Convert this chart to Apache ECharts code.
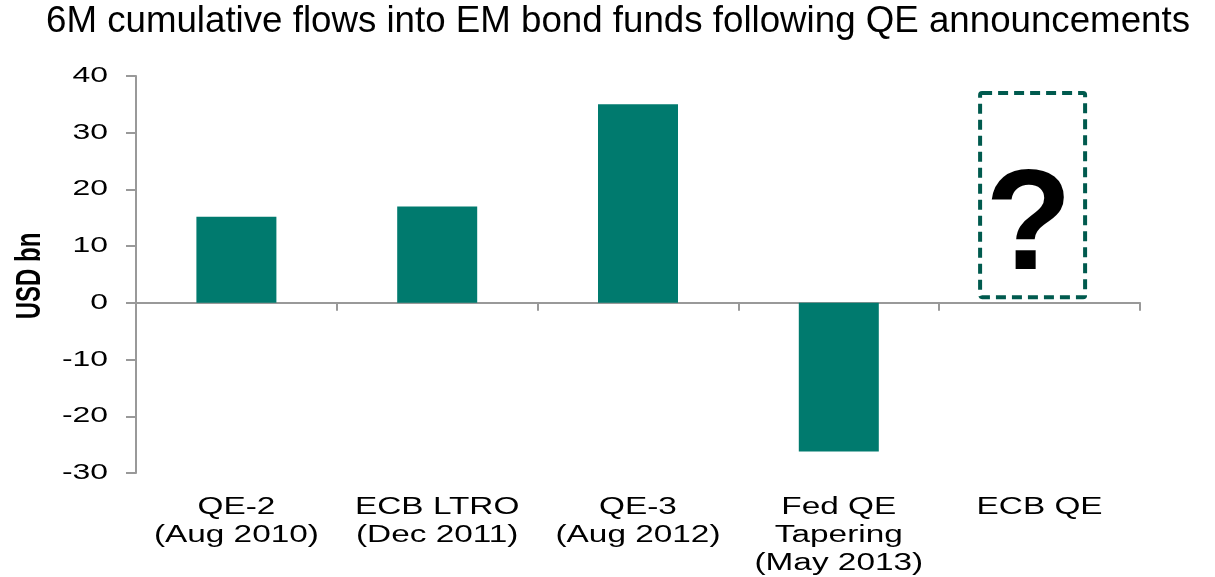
<!DOCTYPE html>
<html>
<head>
<meta charset="utf-8">
<script src="https://cdn.jsdelivr.net/npm/echarts@6/dist/echarts.min.js"></script>
<style>
  html, body { margin: 0; padding: 0; background: #fff; }
  #chart { width: 1215px; height: 577px; }
</style>
</head>
<body>
<div id="chart"></div>
<script>
// Episodes and 6-month cumulative flows (USD bn)
const categories = ['QE-2\n(Aug 2010)', 'ECB LTRO\n(Dec 2011)', 'QE-3\n(Aug 2012)', 'Fed QE\nTapering\n(May 2013)', 'ECB QE'];
const flows = [15.2, 17.0, 35.0, -26.2, null];
// Open question: dashed outline for the pending episode [category index, low, high]
const pendingRange = [[4, 1, 37]];
// Value axis ticks
const yTickValues = [-30, -20, -10, 0, 10, 20, 30, 40];
const yTickLabels = yTickValues.map(String);
const yName = 'USD bn';
const titleText = '6M cumulative flows into EM bond funds following QE announcements';

const teal = '#007A6E';
const font = 'Arial, "Liberation Sans", sans-serif';
const stretch = 1.45; // chart texts are set wide

const chart = echarts.init(document.getElementById('chart'), null, { renderer: 'canvas' });

chart.setOption({
  animation: false,
  graphic: [
    {
      type: 'text',
      x: 618, y: 22,
      style: {
        text: titleText,
        x: 0, y: 0,
        textAlign: 'center', textVerticalAlign: 'middle',
        font: '36.7px ' + font, fill: '#000'
      }
    },
    {
      type: 'text',
      x: 30, y: 276,
      rotation: Math.PI / 2,
      scaleY: stretch,
      style: {
        text: yName,
        x: 0, y: 0,
        textAlign: 'center', textVerticalAlign: 'middle',
        font: 'bold 24px ' + font, fill: '#000'
      }
    }
  ],
  grid: { left: 136, right: 75, top: 76, bottom: 104, containLabel: false },
  xAxis: {
    type: 'category',
    data: categories,
    axisLine: { onZero: true, lineStyle: { color: '#999', width: 2 } },
    axisTick: { show: true, length: 8, lineStyle: { color: '#999', width: 2 } },
    axisLabel: { show: false }
  },
  yAxis: {
    type: 'value',
    min: yTickValues[0],
    max: yTickValues[yTickValues.length - 1],
    interval: 10,
    axisLine: { show: true, lineStyle: { color: '#999', width: 2 } },
    axisTick: { show: true, length: 10, lineStyle: { color: '#999', width: 2 } },
    splitLine: { show: false },
    axisLabel: { show: false }
  },
  series: [
    {
      type: 'bar',
      data: flows,
      barWidth: 80,
      itemStyle: { color: teal },
      z: 2
    },
    {
      // category labels under the plot
      type: 'custom',
      data: categories.map((c, i) => [i]),
      renderItem: function (params, api) {
        const p = api.coord([api.value(0), yTickValues[0]]);
        return {
          type: 'text',
          x: p[0], y: p[1] + 21,
          scaleX: stretch,
          style: {
            text: categories[api.value(0)],
            x: 0, y: 0,
            textAlign: 'center', textVerticalAlign: 'top',
            font: '23px ' + font, fill: '#000', lineHeight: 28
          }
        };
      },
      silent: true
    },
    {
      // value axis labels
      type: 'custom',
      data: yTickValues.map((v, i) => [0, v, i]),
      renderItem: function (params, api) {
        const p = api.coord([0, api.value(1)]);
        return {
          type: 'text',
          x: params.coordSys.x - 28, y: p[1],
          scaleX: stretch,
          style: {
            text: yTickLabels[api.value(2)],
            x: 0, y: 0,
            textAlign: 'right', textVerticalAlign: 'middle',
            font: '22px ' + font, fill: '#000'
          }
        };
      },
      silent: true
    },
    {
      type: 'custom',
      data: pendingRange,
      renderItem: function (params, api) {
        const lo = api.coord([api.value(0), api.value(1)]);
        const hi = api.coord([api.value(0), api.value(2)]);
        const w = 105;
        const cx = lo[0] - 7;
        return {
          type: 'group',
          children: [
            {
              type: 'rect',
              shape: { x: cx - w / 2, y: hi[1], width: w, height: lo[1] - hi[1], r: 2 },
              style: { fill: 'none', stroke: '#005A4E', lineWidth: 4, lineDash: [10, 6] }
            },
            {
              type: 'text',
              style: {
                text: '?',
                x: cx - 4, y: (lo[1] + hi[1]) / 2 + 35,
                textAlign: 'center', textVerticalAlign: 'middle',
                font: 'bold 142px ' + font, fill: '#000'
              }
            }
          ]
        };
      },
      silent: true
    }
  ]
});
</script>
</body>
</html>
